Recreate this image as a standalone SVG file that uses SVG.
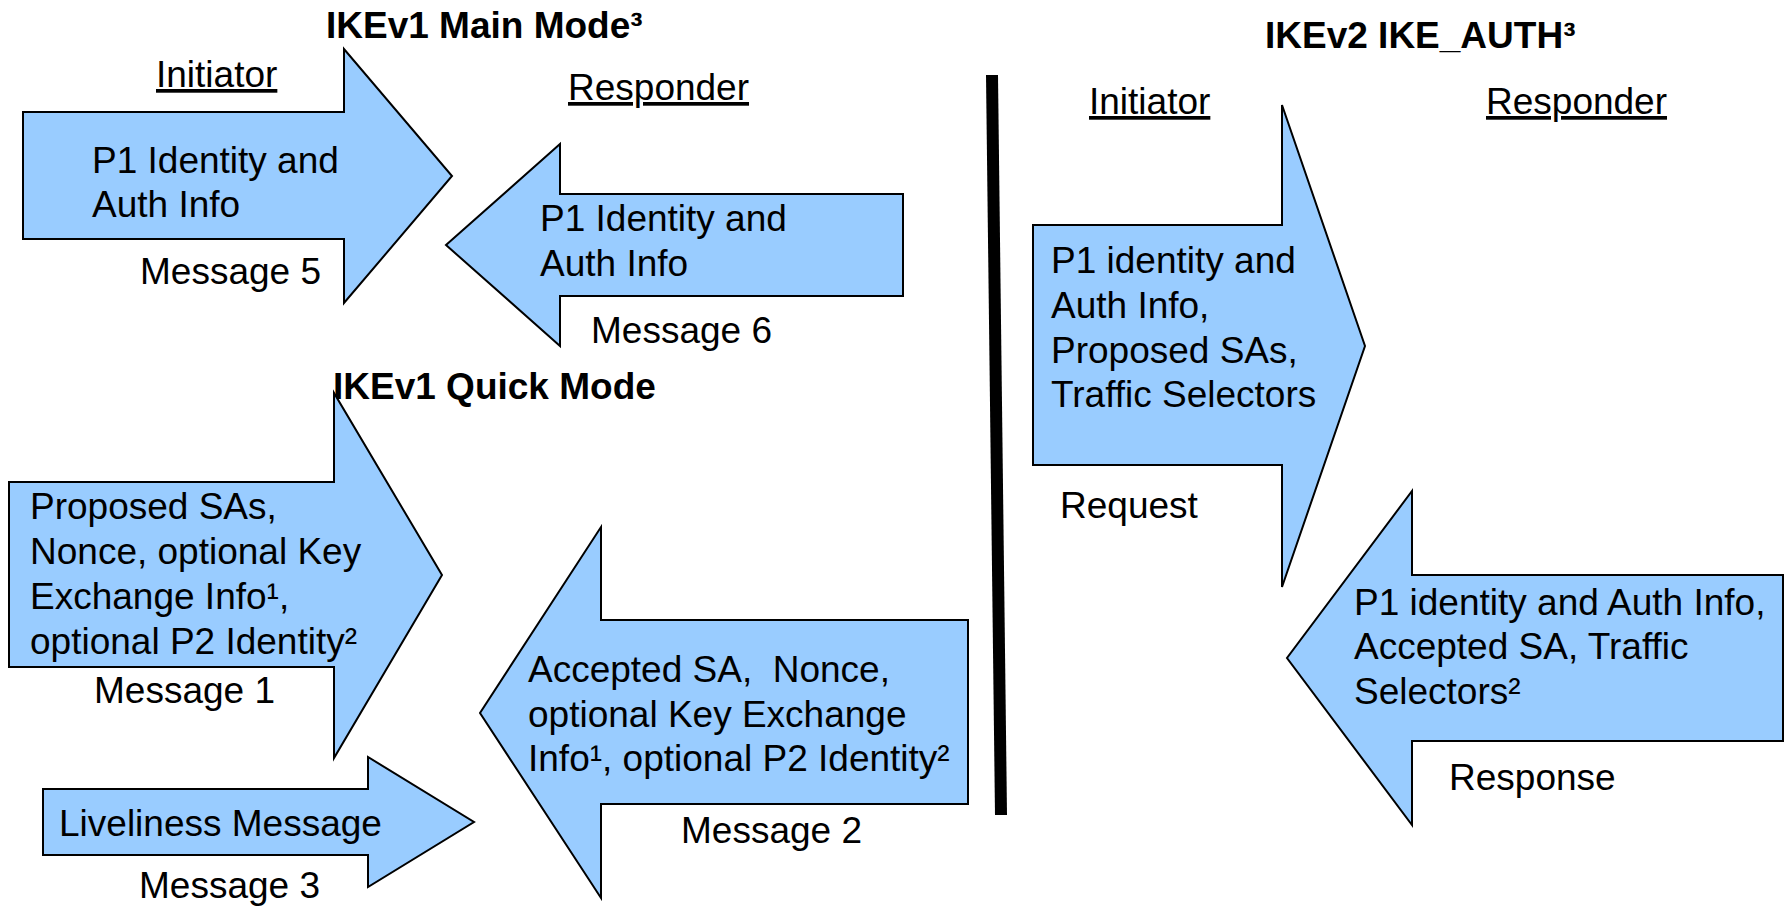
<svg xmlns="http://www.w3.org/2000/svg" width="1786" height="906" viewBox="0 0 1786 906">
<style>
.bg{fill:#ffffff}
.arrow{fill:#99ccff;stroke:#000000;stroke-width:2;stroke-linejoin:miter}
.t{font-family:"Liberation Sans",Arial,Helvetica,sans-serif;font-size:37px;fill:#000000;white-space:pre}
.h{font-family:"Liberation Sans",Arial,Helvetica,sans-serif;font-size:37px;font-weight:bold;fill:#000000}
.u{text-decoration:underline}
</style>
<rect class="bg" x="0" y="0" width="1786" height="906"/>

<g id="titles">
<text class="h" x="326" y="38">IKEv1 Main Mode³</text>
<text class="h" x="333" y="399">IKEv1 Quick Mode</text>
<text class="h" x="1265" y="48">IKEv2 IKE_AUTH³</text>
</g>

<g id="roles">
<text class="t u" x="156" y="87">Initiator</text>
<text class="t u" x="568" y="100">Responder</text>
<text class="t u" x="1089" y="114">Initiator</text>
<text class="t u" x="1486" y="114">Responder</text>
</g>

<g id="connectors">
<line x1="992" y1="75" x2="1001" y2="815" stroke="#000000" stroke-width="12"/>
</g>

<g id="msg5">
<polygon class="arrow" points="23,112 344,112 344,49 452,176 344,303 344,239 23,239"/>
<text class="t" x="92" y="173">P1 Identity and</text>
<text class="t" x="92" y="217">Auth Info</text>
<text class="t" x="140" y="284">Message 5</text>
</g>

<g id="msg6">
<polygon class="arrow" points="903,194 560,194 560,144 446,245 560,346 560,296 903,296"/>
<text class="t" x="540" y="231">P1 Identity and</text>
<text class="t" x="540" y="276">Auth Info</text>
<text class="t" x="591" y="343">Message 6</text>
</g>

<g id="msg1">
<polygon class="arrow" points="9,482 334,482 334,393 442,575 334,758 334,667 9,667"/>
<text class="t" x="30" y="519">Proposed SAs,</text>
<text class="t" x="30" y="564">Nonce, optional Key</text>
<text class="t" x="30" y="609">Exchange Info¹,</text>
<text class="t" x="30" y="654">optional P2 Identity²</text>
<text class="t" x="94" y="703">Message 1</text>
</g>

<g id="msg3">
<polygon class="arrow" points="43,789 368,789 368,757 474,822 368,887 368,855 43,855"/>
<text class="t" x="59" y="836">Liveliness Message</text>
<text class="t" x="139" y="898">Message 3</text>
</g>

<g id="msg2">
<polygon class="arrow" points="968,620 601,620 601,527 480,713 601,898 601,804 968,804"/>
<text class="t" x="528" y="682">Accepted SA,  Nonce,</text>
<text class="t" x="528" y="727">optional Key Exchange</text>
<text class="t" x="528" y="771">Info¹, optional P2 Identity²</text>
<text class="t" x="681" y="843">Message 2</text>
</g>

<g id="request">
<polygon class="arrow" points="1033,225 1282,225 1282,105 1365,346 1282,587 1282,465 1033,465"/>
<text class="t" x="1051" y="273">P1 identity and</text>
<text class="t" x="1051" y="318">Auth Info,</text>
<text class="t" x="1051" y="363">Proposed SAs,</text>
<text class="t" x="1051" y="407">Traffic Selectors</text>
<text class="t" x="1060" y="518">Request</text>
</g>

<g id="response">
<polygon class="arrow" points="1783,575 1412,575 1412,491 1287,658 1412,825 1412,741 1783,741"/>
<text class="t" x="1354" y="615">P1 identity and Auth Info,</text>
<text class="t" x="1354" y="659">Accepted SA, Traffic</text>
<text class="t" x="1354" y="704">Selectors²</text>
<text class="t" x="1449" y="790">Response</text>
</g>
</svg>
